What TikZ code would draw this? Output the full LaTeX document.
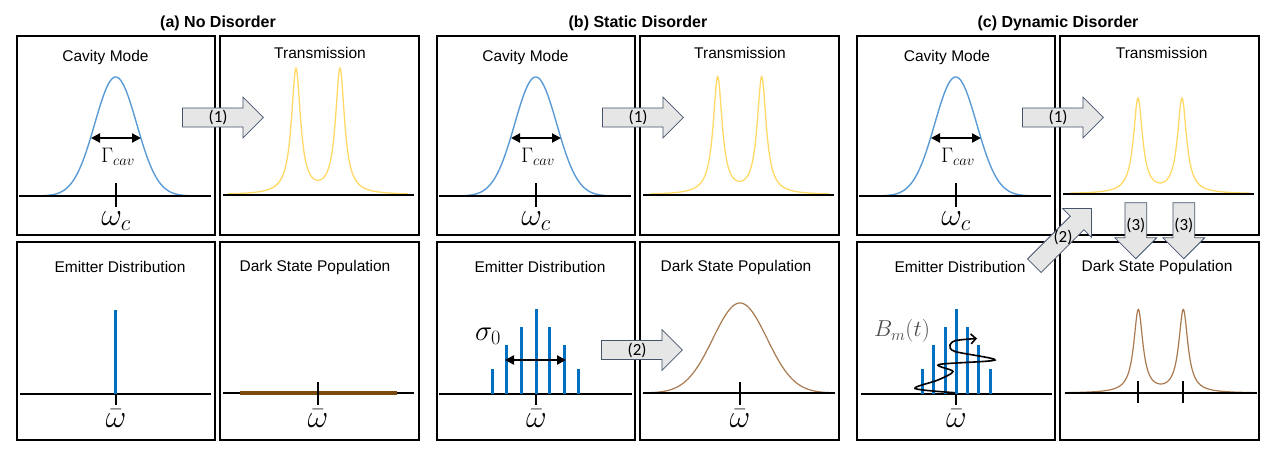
\RequirePackage{fix-cm}
\documentclass[tikz,border=0pt]{standalone}
\usepackage[no-math]{fontspec}
\setmainfont{Liberation Sans}
\newfontfamily\calibri{Carlito}
\usetikzlibrary{shapes.arrows,arrows.meta,calc}

\definecolor{cavblue}{HTML}{5B9BD5}
\definecolor{transyellow}{HTML}{FFD966}
\definecolor{emitblue}{HTML}{0070C0}
\definecolor{darkbrown}{HTML}{7B4A0E}
\definecolor{popbrown}{HTML}{A97A50}
\definecolor{arrowfill}{HTML}{E6E6E6}
\definecolor{arrowline}{HTML}{44546A}

\tikzset{
  panel/.style={draw=black, line width=1.3pt},
  axis/.style={line width=1.8pt},
  tick/.style={line width=1.8pt},
  plabel/.style={font=\fontsize{15.5}{18}\selectfont},
  coltitle/.style={font=\bfseries\fontsize{16}{19}\selectfont},
  mathlbl/.style={font=\fontsize{32}{34}\selectfont},
  siglbl/.style={font=\fontsize{29}{31}\selectfont},
  sublbl/.style={font=\fontsize{21}{24}\selectfont},
  blockarrow/.style={single arrow, draw=arrowline, fill=arrowfill, line width=0.8pt,
    minimum height=81pt, minimum width=41pt, single arrow head extend=10pt,
    inner sep=1pt, font=\calibri\fontsize{17}{19}\selectfont},
  arrowlbl/.style={font=\calibri\fontsize{17}{19}\selectfont},
  stick/.style={draw=emitblue, line width=3pt},
  width arrow/.style={{Triangle[length=9pt,width=9pt]}-{Triangle[length=9pt,width=9pt]}, line width=2.2pt},
}

\begin{document}
\begin{tikzpicture}[x=1pt, y=-1pt]
    \useasboundingbox (0,0) rectangle (1280,455);

    \node[coltitle] (titleA) at (218,23) {(a) No Disorder};
    \node[coltitle] (titleB) at (638,23) {(b) Static Disorder};
    \node[coltitle] (titleC) at (1058,23) {(c) Dynamic Disorder};

    % (a) no disorder
    \begin{scope}
        \draw[panel] (17,36) rectangle (215,235);
        \draw[panel] (220,36) rectangle (419,235);
        \draw[panel] (17,242) rectangle (215,440);
        \draw[panel] (220,242) rectangle (419,440);

        \node[plabel] (cavA) at (105.5,57) {Cavity Mode};
        \draw[cavblue, line width=1.4pt] plot[domain=-95:95, samples=150] ({115.7+\x},{196-119*exp(-(\x/21)*(\x/21)/2)});
        \draw[axis] (19,196) -- (211,196);
        \draw[tick] (115.7,183) -- (115.7,207);
        \coordinate (gamLA) at (91,138);
        \coordinate (gamRA) at (141,138);
        \draw[width arrow] (gamLA) -- (gamRA);
        \node[sublbl] (gamA) at (118,157) {$\Gamma_{cav}$};
        \node[mathlbl] (wcA) at (116,221) {$\omega_c$};

        \node[plabel] (transA) at (320,53) {Transmission};
        \draw[transyellow, line width=1.3pt] plot[domain=-90:90, samples=361] ({318+\x},{195-125*(1/(((\x/10-2.2)*(\x/10-2.2))/0.3025+1)+1/(((\x/10+2.2)*(\x/10+2.2))/0.3025+1))});
        \draw[axis] (223,195) -- (414,195);

        \node[plabel] (emitA) at (120,267) {Emitter Distribution};
        \draw[axis] (20,394) -- (211,394);
        \draw[tick] (115.7,382) -- (115.7,405);
        \draw[stick] (115.7,394) -- (115.7,310);
        \node[mathlbl] (wbA) at (116,419) {$\bar\omega$};

        \node[plabel] (darkA) at (315,267) {Dark State Population};
        \draw[axis] (223,393) -- (414,393);
        \draw[darkbrown, line width=3.5pt] (240,393) -- (397,393);
        \draw[tick] (318,382) -- (318,405);
        \node[mathlbl] (wdA) at (318,419) {$\bar\omega$};

        \node[blockarrow, anchor=tail] (arrA1) at (182,117.5) {(1)};
    \end{scope}

    % (b) static disorder
    \begin{scope}[shift={(420,0)}]
        \draw[panel] (17,36) rectangle (215,235);
        \draw[panel] (220,36) rectangle (419,235);
        \draw[panel] (17,242) rectangle (215,440);
        \draw[panel] (220,242) rectangle (419,440);

        \node[plabel] (cavB) at (105.5,57) {Cavity Mode};
        \draw[cavblue, line width=1.4pt] plot[domain=-95:95, samples=150] ({115.7+\x},{196-119*exp(-(\x/21)*(\x/21)/2)});
        \draw[axis] (19,196) -- (211,196);
        \draw[tick] (115.7,183) -- (115.7,207);
        \coordinate (gamLB) at (91,138);
        \coordinate (gamRB) at (141,138);
        \draw[width arrow] (gamLB) -- (gamRB);
        \node[sublbl] (gamB) at (118,157) {$\Gamma_{cav}$};
        \node[mathlbl] (wcB) at (116,221) {$\omega_c$};

        \node[plabel] (transB) at (320,53) {Transmission};
        \draw[transyellow, line width=1.3pt] plot[domain=-90:90, samples=361] ({319.7+\x},{195-116.5*(1/(((\x/10-2.2)*(\x/10-2.2))/0.3025+1)+1/(((\x/10+2.2)*(\x/10+2.2))/0.3025+1))});
        \draw[axis] (223,195) -- (414,195);

        \node[plabel] (emitB) at (120,267) {Emitter Distribution};
        \draw[axis] (19,394) -- (211.7,394);
        \draw[tick] (116.3,382) -- (116.3,405);
        \foreach \sx/\sy in {72.3/369.3, 86.3/345.3, 101.3/327.3, 116.3/309.3, 129.3/327.3, 144.3/345.3, 158.7/369.3}
            \draw[stick] (\sx,394) -- (\sx,\sy);
        \coordinate (sigLB) at (85,360);
        \coordinate (sigRB) at (146,360);
        \draw[width arrow] (sigLB) -- (sigRB);
        \node[siglbl] (sigB) at (68,336) {$\sigma_0$};
        \node[mathlbl] (wbB) at (116.5,419) {$\bar\omega$};

        \node[plabel] (darkB) at (316,267) {Dark State Population};
        \draw[popbrown, line width=1.2pt] plot[domain=-96:95, samples=150] ({320+\x},{393-90*exp(-(\x/27)*(\x/27)/2)});
        \draw[axis] (222.7,393) -- (415,393);
        \draw[tick] (320,382) -- (320,405);
        \node[mathlbl] (wdB) at (320,419) {$\bar\omega$};

        \node[blockarrow, anchor=tail] (arrB1) at (182,117.5) {(1)};
        \node[blockarrow, anchor=tail] (arrB2) at (181,350) {(2)};
    \end{scope}

    % (c) dynamic disorder
    \begin{scope}[shift={(840,0)}]
        \draw[panel] (17,36) rectangle (215,235);
        \draw[panel] (220,36) rectangle (419,235);
        \draw[panel] (17,242) rectangle (215,440);
        \draw[panel] (220,242) rectangle (419,440);

        \node[plabel] (cavC) at (107,57) {Cavity Mode};
        \draw[cavblue, line width=1.4pt] plot[domain=-95:95, samples=150] ({115.7+\x},{196-119*exp(-(\x/21)*(\x/21)/2)});
        \draw[axis] (19,196) -- (211,196);
        \draw[tick] (115.7,183) -- (115.7,207);
        \coordinate (gamLC) at (91,138);
        \coordinate (gamRC) at (141,138);
        \draw[width arrow] (gamLC) -- (gamRC);
        \node[sublbl] (gamC) at (118,157) {$\Gamma_{cav}$};
        \node[mathlbl] (wcC) at (116,221) {$\omega_c$};

        \node[plabel] (transC) at (321.7,53) {Transmission};
        \draw[transyellow, line width=1.3pt] plot[domain=-90:90, samples=361] ({320+\x},{194-94.5*(1/(((\x/10-2.2)*(\x/10-2.2))/0.3025+1)+1/(((\x/10+2.2)*(\x/10+2.2))/0.3025+1))});
        \draw[axis] (223,194) -- (414,194);

        \node[plabel] (emitC) at (120,267) {Emitter Distribution};
        \draw[axis] (21,394) -- (212,394);
        \draw[tick] (116.3,382) -- (116.3,405);
        \foreach \sx/\sy in {82.3/369.3, 93.3/345.3, 105.7/327.3, 116.3/309.3, 127.3/327.3, 138.7/345.3, 150.3/369.3}
            \draw[stick] (\sx,394) -- (\sx,\sy);
        \node[sublbl, font=\fontsize{23}{26}\selectfont, text=black!70] (bmC) at (62,331) {$B_m(t)$};
        \draw[line width=1.6pt, -{Straight Barb[length=5pt]}] plot[smooth, tension=0.5] coordinates {(115,392.7) (75,388.5) (98,380) (113,371.5) (99,364.5) (155,360) (115,351.5) (110,345) (116,340.5) (137,338.5)};
        \node[mathlbl] (wbC) at (116.5,419) {$\bar\omega$};

        \node[plabel] (darkC) at (317,267) {Dark State Population};
        \draw[popbrown, line width=1.2pt] plot[domain=-96:96, samples=361] ({320.8+\x},{393.3-82.7*(1/(((\x/10-2.25)*(\x/10-2.25))/0.3025+1)+1/(((\x/10+2.25)*(\x/10+2.25))/0.3025+1))});
        \draw[axis] (225,393.3) -- (417,393.3);
        \draw[tick] (298.3,381) -- (298.3,403);
        \draw[tick] (343.3,381) -- (343.3,403);

        \node[blockarrow, anchor=tail] (arrC1) at (182,117.5) {(1)};
        \node[blockarrow, rotate=45, anchor=tail] (arrC2) at (194,266) {\phantom{(2)}};
        \node[arrowlbl] (lblC2) at ($(arrC2.tail)!0.5!(arrC2.tip)$) {(2)};
        \node[blockarrow, minimum height=56pt, shape border rotate=270, anchor=tail] (arrC3a) at (295.8,202.3) {(3)};
        \node[blockarrow, minimum height=56pt, shape border rotate=270, anchor=tail] (arrC3b) at (343.8,202.3) {(3)};
    \end{scope}
\end{tikzpicture}
\end{document}
